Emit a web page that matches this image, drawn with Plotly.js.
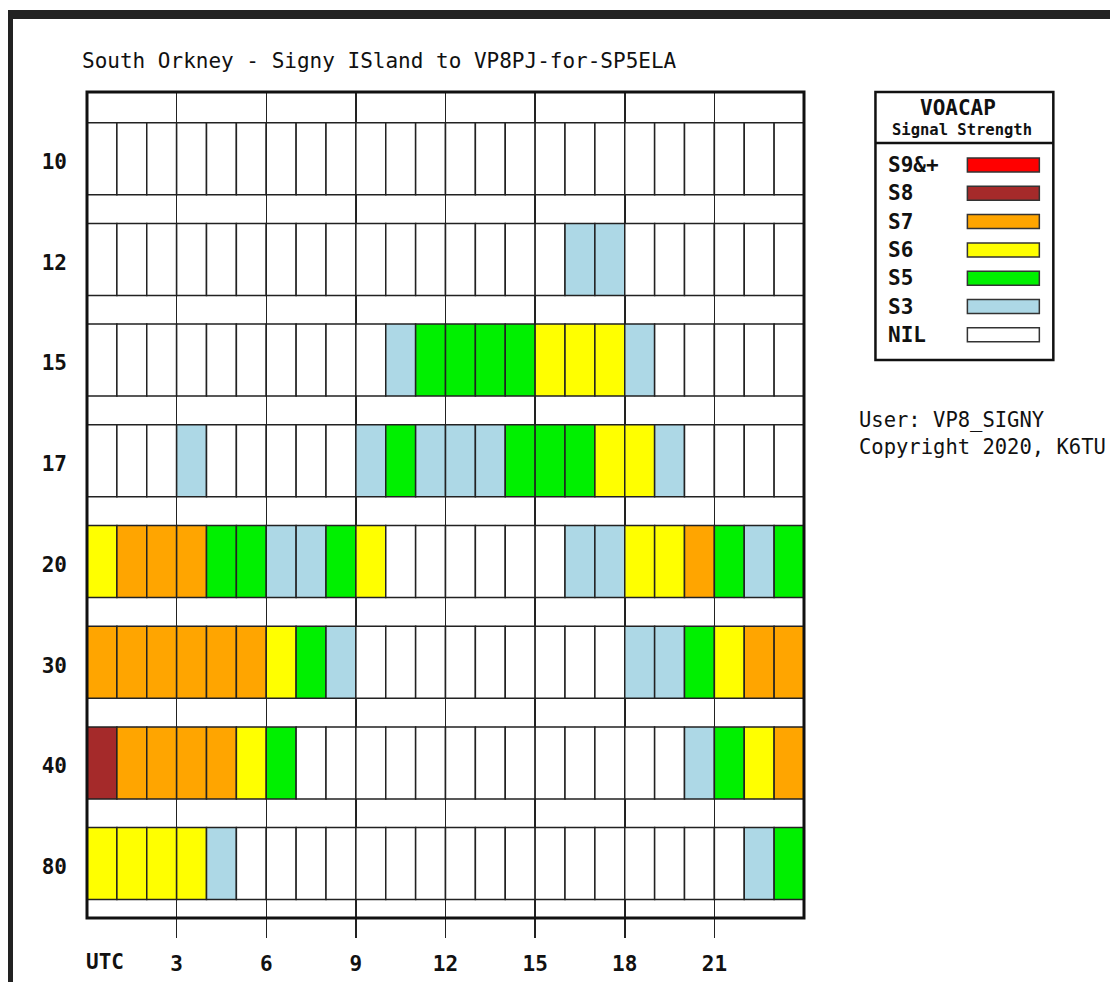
<!DOCTYPE html>
<html>
<head>
<meta charset="utf-8">
<script src="https://cdn.plot.ly/plotly-3.0.1.min.js"></script>
<style>
  html, body { margin: 0; padding: 0; background: #ffffff; }
  #wrap { position: relative; width: 1110px; height: 982px; overflow: hidden; }
  #chart { position: absolute; left: 0; top: 0; width: 1110px; height: 982px; }
  .frame { position: absolute; background: #222222; z-index: 5; }
</style>
</head>
<body>
<div id="wrap">
  <div id="chart"></div>
  <div class="frame" style="left:8px; top:10px; width:1102px; height:9px;"></div>
  <div class="frame" style="left:8px; top:10px; width:5px; height:972px;"></div>
</div>
<script>
// ---------------- DATA ----------------
const bands = ['10', '12', '15', '17', '20', '30', '40', '80'];
const hours = [0, 1, 2, 3, 4, 5, 6, 7, 8, 9, 10, 11, 12, 13, 14, 15, 16, 17, 18, 19, 20, 21, 22, 23];
const hourTicks = [3, 6, 9, 12, 15, 18, 21];

const s10 = ['NIL','NIL','NIL','NIL','NIL','NIL','NIL','NIL','NIL','NIL','NIL','NIL','NIL','NIL','NIL','NIL','NIL','NIL','NIL','NIL','NIL','NIL','NIL','NIL'];
const s12 = ['NIL','NIL','NIL','NIL','NIL','NIL','NIL','NIL','NIL','NIL','NIL','NIL','NIL','NIL','NIL','NIL','S3','S3','NIL','NIL','NIL','NIL','NIL','NIL'];
const s15 = ['NIL','NIL','NIL','NIL','NIL','NIL','NIL','NIL','NIL','NIL','S3','S5','S5','S5','S5','S6','S6','S6','S3','NIL','NIL','NIL','NIL','NIL'];
const s17 = ['NIL','NIL','NIL','S3','NIL','NIL','NIL','NIL','NIL','S3','S5','S3','S3','S3','S5','S5','S5','S6','S6','S3','NIL','NIL','NIL','NIL'];
const s20 = ['S6','S7','S7','S7','S5','S5','S3','S3','S5','S6','NIL','NIL','NIL','NIL','NIL','NIL','S3','S3','S6','S6','S7','S5','S3','S5'];
const s30 = ['S7','S7','S7','S7','S7','S7','S6','S5','S3','NIL','NIL','NIL','NIL','NIL','NIL','NIL','NIL','NIL','S3','S3','S5','S6','S7','S7'];
const s40 = ['S8','S7','S7','S7','S7','S6','S5','NIL','NIL','NIL','NIL','NIL','NIL','NIL','NIL','NIL','NIL','NIL','NIL','NIL','S3','S5','S6','S7'];
const s80 = ['S6','S6','S6','S6','S3','NIL','NIL','NIL','NIL','NIL','NIL','NIL','NIL','NIL','NIL','NIL','NIL','NIL','NIL','NIL','NIL','NIL','S3','S5'];

const levels = ['S9&+', 'S8', 'S7', 'S6', 'S5', 'S3', 'NIL'];
const levelColors = ['#ff0000', '#a52a2a', '#ffa500', '#ffff00', '#00f000', '#add8e6', '#ffffff'];

const titleText = 'South Orkney - Signy ISland to VP8PJ-for-SP5ELA';
const legendTitle1 = 'VOACAP';
const legendTitle2 = 'Signal Strength';
const userText = 'User: VP8_SIGNY';
const copyText = 'Copyright 2020, K6TU';

// ---------------- LAYOUT CONSTANTS ----------------
const W = 1110, H = 982;
const PL = 87, PR = 804.5, PT = 92, PB = 918;
const ROW_OFF = 30.7, ROW_PERIOD = 100.7, ROW_H = 72;
const FONT = 'DejaVu Sans Mono, Liberation Mono, monospace';
const LINE = '#222222';
const FS = 21;

const series = [s10, s12, s15, s17, s20, s30, s40, s80];
const colorOf = {};
levels.forEach((l, i) => colorOf[l] = levelColors[i]);

// build cells
const cx = [], cbase = [], cy = [], ccol = [], ctext = [];
series.forEach((row, bi) => {
  row.forEach((lv, hi) => {
    cx.push(hours[hi] + 0.5);
    cbase.push(ROW_OFF + bi * ROW_PERIOD);
    cy.push(ROW_H);
    ccol.push(colorOf[lv]);
    ctext.push(bands[bi] + 'm ' + hours[hi] + ' UTC: ' + lv);
  });
});

const cells = {
  type: 'bar',
  x: cx, y: cy, base: cbase,
  width: 1,
  marker: { color: ccol, line: { color: LINE, width: 1.5 } },
  hovertext: ctext, hoverinfo: 'text',
  showlegend: false
};

const rowCenters = bands.map((b, i) => ROW_OFF + i * ROW_PERIOD + ROW_H / 2 + 3);

// pixel -> paper helpers
const px = v => (v - PL) / (PR - PL);
const py = v => (PB - v) / (PB - PT);

const shapes = [];
const annotations = [];

// plot border
shapes.push({ type: 'rect', xref: 'paper', yref: 'paper', x0: 0, x1: 1, y0: 0, y1: 1,
  line: { color: '#111111', width: 3 }, fillcolor: 'rgba(0,0,0,0)', layer: 'above' });

// legend box
const LX0 = 876, LX1 = 1054, LY0 = 92, LY1 = 360, LDIV = 143;
shapes.push({ type: 'rect', xref: 'paper', yref: 'paper', x0: px(LX0), x1: px(LX1), y0: py(LY1), y1: py(LY0),
  line: { color: '#111111', width: 2.5 }, fillcolor: '#ffffff' });
shapes.push({ type: 'line', xref: 'paper', yref: 'paper', x0: px(LX0), x1: px(LX1), y0: py(LDIV), y1: py(LDIV),
  line: { color: '#111111', width: 2.5 } });
annotations.push({ xref: 'paper', yref: 'paper', x: px(959), y: py(108), text: '<b>' + legendTitle1 + '</b>', showarrow: false,
  xanchor: 'center', yanchor: 'middle', font: { family: FONT, size: FS, color: '#111' } });
annotations.push({ xref: 'paper', yref: 'paper', x: px(963), y: py(130), text: '<b>' + legendTitle2 + '</b>', showarrow: false,
  xanchor: 'center', yanchor: 'middle', font: { family: FONT, size: 15.5, color: '#111' } });
levels.forEach((l, i) => {
  const yc = 165 + i * 28.3;
  shapes.push({ type: 'rect', xref: 'paper', yref: 'paper', x0: px(968), x1: px(1040), y0: py(yc + 7), y1: py(yc - 7),
    line: { color: '#333333', width: 1.5 }, fillcolor: levelColors[i] });
  annotations.push({ xref: 'paper', yref: 'paper', x: px(887), y: py(yc), text: '<b>' + l.replace('&', '&amp;') + '</b>', showarrow: false,
    xanchor: 'left', yanchor: 'middle', font: { family: FONT, size: FS, color: '#111' } });
});

// user / copyright
annotations.push({ xref: 'paper', yref: 'paper', x: px(858), y: py(420), text: userText, showarrow: false,
  xanchor: 'left', yanchor: 'middle', font: { family: FONT, size: 20.5, color: '#111' } });
annotations.push({ xref: 'paper', yref: 'paper', x: px(858), y: py(447), text: copyText, showarrow: false,
  xanchor: 'left', yanchor: 'middle', font: { family: FONT, size: 20.5, color: '#111' } });

// UTC label
annotations.push({ xref: 'paper', yref: 'paper', x: px(84), y: py(962), text: '<b>UTC</b>', showarrow: false,
  xanchor: 'left', yanchor: 'middle', font: { family: FONT, size: FS, color: '#111' } });

const layout = {
  width: W, height: H,
  margin: { l: PL, r: W - PR, t: PT, b: H - PB, pad: 0 },
  paper_bgcolor: '#ffffff', plot_bgcolor: '#ffffff',
  title: { text: titleText, x: 82 / W, xanchor: 'left', y: 1 - 61 / H, yanchor: 'middle',
    font: { family: FONT, size: FS, color: '#111' } },
  barmode: 'overlay',
  bargap: 0,
  xaxis: {
    range: [0, 24], tickmode: 'array', tickvals: hourTicks, ticktext: hourTicks.map(v => '<b>' + v + '</b>'),
    showgrid: true, gridcolor: LINE, gridwidth: 1.5,
    ticks: 'outside', ticklen: 19, tickwidth: 1.5, tickcolor: LINE,
    tickfont: { family: FONT, size: FS, color: '#111' },
    ticklabelstandoff: 8,
    zeroline: false, showline: false, fixedrange: true
  },
  yaxis: {
    range: [PB - PT, 0], tickmode: 'array', tickvals: rowCenters, ticktext: bands.map(b => '<b>' + b + '</b>'),
    showgrid: false, zeroline: false, showline: false, ticks: '',
    tickfont: { family: FONT, size: FS, color: '#111' },
    ticklabelstandoff: 19, fixedrange: true
  },
  shapes: shapes,
  annotations: annotations,
  showlegend: false
};

Plotly.newPlot('chart', [cells], layout, { displayModeBar: false, staticPlot: true });
</script>
</body>
</html>
